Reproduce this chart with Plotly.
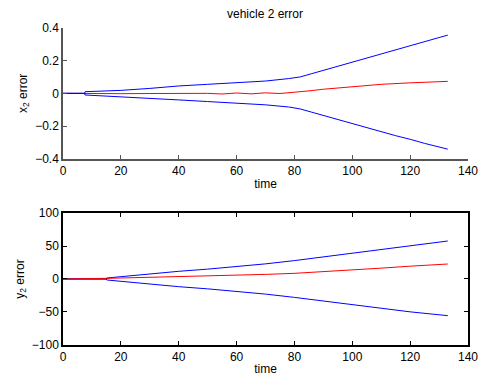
import plotly.graph_objects as go

# ---- data ----
t_top = [0, 7.5, 7.6, 20, 30, 40, 50, 60, 70, 78, 82, 86, 90, 95, 100, 105, 110, 115, 120, 125, 133]
x2_upper = [0, 0, 0.01, 0.018, 0.03, 0.045, 0.055, 0.066, 0.075, 0.09, 0.1, 0.12, 0.14, 0.165, 0.19, 0.215, 0.24, 0.265, 0.29, 0.315, 0.355]
x2_lower = [0, 0, -0.01, -0.02, -0.03, -0.04, -0.05, -0.058, -0.07, -0.083, -0.095, -0.115, -0.135, -0.16, -0.185, -0.21, -0.235, -0.258, -0.28, -0.305, -0.34]
t_red_top = [0, 10, 20, 30, 40, 50, 55, 60, 65, 70, 75, 80, 85, 90, 100, 110, 120, 133]
x2_err = [0, -0.003, -0.002, -0.001, 0, 0, -0.004, 0.002, -0.003, 0.003, -0.001, 0.006, 0.015, 0.025, 0.042, 0.055, 0.064, 0.073]

t_bot = [0, 7, 15, 15.1, 20, 30, 40, 50, 60, 70, 80, 90, 100, 110, 120, 133]
y2_upper = [0, 0, 0, 1.5, 3.6, 7.5, 11.7, 15, 18.5, 23, 28, 33.5, 39, 44.5, 50, 57.8]
y2_lower = [0, 0, 0, -1.5, -3.6, -7.5, -11.7, -15, -18.5, -23, -28, -33.5, -39, -44.5, -50, -55.8]
t_red_bot = [0, 7, 7.1, 15, 20, 30, 40, 50, 60, 70, 80, 90, 100, 110, 120, 133]
y2_err = [0, 0, 1, 1, 1.5, 2.5, 3, 4.5, 6, 7, 8.6, 11, 13.7, 16.5, 19.5, 22.8]

x_ticks = [0, 20, 40, 60, 80, 100, 120, 140]
top_ticks = [-0.4, -0.2, 0, 0.2, 0.4]
top_labels = ["\u22120.4", "\u22120.2", "0", "0.2", "0.4"]
bot_ticks = [-100, -50, 0, 50, 100]
bot_labels = ["\u2212100", "\u221250", "0", "50", "100"]

BLUE = "rgb(0,0,255)"
RED = "rgb(255,0,0)"
FONT = dict(family="Liberation Sans, Arial, sans-serif", size=12, color="black")

fig = go.Figure()
fig.add_trace(go.Scatter(x=t_red_top, y=x2_err, mode="lines", line=dict(color=RED, width=1), xaxis="x", yaxis="y"))
fig.add_trace(go.Scatter(x=t_top, y=x2_upper, mode="lines", line=dict(color=BLUE, width=1), xaxis="x", yaxis="y"))
fig.add_trace(go.Scatter(x=t_top, y=x2_lower, mode="lines", line=dict(color=BLUE, width=1), xaxis="x", yaxis="y"))

fig.add_trace(go.Scatter(x=t_bot, y=y2_upper, mode="lines", line=dict(color=BLUE, width=1), xaxis="x2", yaxis="y2"))
fig.add_trace(go.Scatter(x=t_bot, y=y2_lower, mode="lines", line=dict(color=BLUE, width=1), xaxis="x2", yaxis="y2"))
fig.add_trace(go.Scatter(x=t_red_bot, y=y2_err, mode="lines", line=dict(color=RED, width=1), xaxis="x2", yaxis="y2"))

gray = "#555555"
common = dict(showgrid=False, zeroline=False, showline=True, ticks="inside", ticklen=4,
              tickfont=FONT, automargin=False)

fig.update_layout(
    width=482, height=381,
    margin=dict(l=0, r=0, t=0, b=0, autoexpand=False),
    paper_bgcolor="white", plot_bgcolor="white",
    showlegend=False,
    font=FONT,
    xaxis=dict(domain=[0.1307, 0.971], anchor="y", range=[0, 140], tickvals=x_ticks,
               linecolor=gray, tickcolor=gray, linewidth=1.5,
               title=dict(text="time", font=FONT, standoff=2), **common),
    yaxis=dict(domain=[0.5827, 0.9273], anchor="x", range=[-0.4, 0.4], tickvals=top_ticks,
               ticktext=top_labels, linecolor=gray, tickcolor=gray, linewidth=1.5,
               title=dict(text="x<sub>2</sub> error", font=FONT, standoff=5), **common),
    xaxis2=dict(domain=[0.1307, 0.971], anchor="y2", range=[0, 140], tickvals=x_ticks,
                linecolor="black", tickcolor="black", linewidth=1.5, mirror="ticks",
                title=dict(text="time", font=FONT, standoff=2), **common),
    yaxis2=dict(domain=[0.0953, 0.4402], anchor="x2", range=[-100, 100], tickvals=bot_ticks,
                ticktext=bot_labels, linecolor="black", tickcolor="black", linewidth=1.5,
                mirror="ticks",
                title=dict(text="y<sub>2</sub> error", font=FONT, standoff=5), **common),
    annotations=[dict(text="vehicle 2 error", x=0.5508, y=1 - 14 / 381, xref="paper", yref="paper",
                      showarrow=False, font=dict(family=FONT["family"], size=12, color="black"),
                      xanchor="center", yanchor="middle")],
)

fig.write_html("out.html", config={"displayModeBar": False},
               post_script="document.body.style.margin='0';document.body.style.overflow='hidden';")
